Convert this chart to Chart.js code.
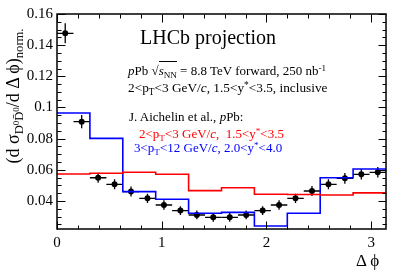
<!DOCTYPE html>
<html>
<head>
<meta charset="utf-8">
<script src="https://cdn.jsdelivr.net/npm/chart.js@4"></script>
<style>
  body { margin: 0; background: #fff; }
  #wrap { position: relative; width: 407px; height: 276px; font-family: "Liberation Serif", "Times New Roman", serif; }
  #c { position: absolute; left: 0; top: 0; }
  .t { position: absolute; white-space: nowrap; line-height: 1; color: #000; }
  .sb { position: relative; top: 0.3em; font-size: 70%; }
  .sp { position: relative; top: -0.45em; font-size: 70%; }
  .it { font-style: italic; }
  .ov { border-top: 1px solid currentColor; padding-top: 1px; }
</style>
</head>
<body>
<div id="wrap">
  <canvas id="c" width="407" height="276"></canvas>

  <div class="t" style="left:140px; top:27px; font-size:20px;">LHCb projection</div>
  <div class="t" style="left:128px; top:64px; font-size:13px;"><span class="it">p</span>Pb &radic;<span class="ov"><span class="it">s</span><span class="sb">NN</span></span> = 8.8 TeV forward, 250 nb<span class="sp">-1</span></div>
  <div class="t" style="left:128px; top:81px; font-size:13.3px;">2&lt;p<span class="sb">T</span>&lt;3 GeV/<span class="it">c</span>, 1.5&lt;y<span class="sp">*</span>&lt;3.5, inclusive</div>
  <div class="t" style="left:129px; top:110px; font-size:13px;">J. Aichelin et al., <span class="it">p</span>Pb:</div>
  <div class="t" style="left:139px; top:127px; font-size:13px; color:#ff0000;">2&lt;p<span class="sb">T</span>&lt;3 GeV/<span class="it">c</span>,&nbsp; 1.5&lt;y<span class="sp">*</span>&lt;3.5</div>
  <div class="t" style="left:134px; top:141px; font-size:13px; color:#0000ff;">3&lt;p<span class="sb">T</span>&lt;12 GeV/<span class="it">c</span>, 2.0&lt;y<span class="sp">*</span>&lt;4.0</div>

  <div class="t" style="left:356px; top:252px; font-size:17px;">&Delta; &#981;</div>
  <div class="t" style="left:-87px; top:87px; width:200px; text-align:center; font-size:18px; transform:rotate(-90deg);">(d &sigma;<span class="sb">D<span class="sp">0</span>D&#772;<span class="sp">0</span></span>/d &Delta; &#981;)<span class="sb">norm.</span></div>
</div>

<script>
/* ===================== DATA ===================== */

const PHI_MAX = Math.PI;

// LHCb projection points, 20 bins in delta phi
const lhcbValues = [
  0.1476, 0.0909, 0.0549, 0.0507, 0.0460, 0.0417, 0.0374, 0.0338, 0.0310, 0.0295,
  0.0295, 0.0310, 0.0338, 0.0374, 0.0417, 0.0464, 0.0507, 0.0545, 0.0571, 0.0584
];
const lhcbErrors = [
  0.0064, 0.0042, 0.0032, 0.0032, 0.0032, 0.0030, 0.0030, 0.0028, 0.0028, 0.0028,
  0.0028, 0.0028, 0.0028, 0.0030, 0.0030, 0.0032, 0.0032, 0.0034, 0.0034, 0.0034
];

// Aichelin et al. model, 10 bins in delta phi
const redModel  = [0.0573, 0.0578, 0.0584, 0.0571, 0.0466, 0.0485, 0.0443, 0.0441, 0.0438, 0.0452];
const blueModel = [0.0965, 0.0802, 0.0460, 0.0411, 0.0321, 0.0327, 0.0239, 0.0321, 0.0549, 0.0605];

const yTickLabels = [0.04, 0.06, 0.08, 0.1, 0.12, 0.14, 0.16];
const xTickLabels = [0, 1, 2, 3];

/* ===================== HELPERS ===================== */

function binCenters(n) {
  const w = PHI_MAX / n;
  return Array.from({ length: n }, (_, i) => (i + 0.5) * w);
}

function histPoints(values) {
  const w = PHI_MAX / values.length;
  const pts = values.map((v, i) => ({ x: i * w, y: v }));
  pts.push({ x: PHI_MAX, y: values[values.length - 1] });
  return pts;
}

const centers = binCenters(lhcbValues.length);
const halfBin = PHI_MAX / lhcbValues.length / 2;
const points = lhcbValues.map((v, i) => ({ x: centers[i], y: v, e: lhcbErrors[i] }));

/* ===================== PLUGINS ===================== */

// error bars under the markers
const errorBars = {
  id: "errorBars",
  beforeDatasetsDraw(chart) {
    const { ctx, scales: { x, y } } = chart;
    ctx.save();
    ctx.strokeStyle = "#000";
    ctx.lineWidth = 1.3;
    points.forEach(p => {
      const px = x.getPixelForValue(p.x);
      ctx.beginPath();
      ctx.moveTo(x.getPixelForValue(p.x - halfBin), y.getPixelForValue(p.y));
      ctx.lineTo(x.getPixelForValue(p.x + halfBin), y.getPixelForValue(p.y));
      ctx.moveTo(px, y.getPixelForValue(p.y - p.e));
      ctx.lineTo(px, y.getPixelForValue(p.y + p.e));
      ctx.stroke();
    });
    ctx.restore();
  }
};

// ROOT style frame with inward ticks on all four sides
const frameTicks = {
  id: "frameTicks",
  afterDraw(chart) {
    const { ctx, chartArea: a, scales: { x, y } } = chart;
    ctx.save();
    ctx.strokeStyle = "#000";
    ctx.lineWidth = 1;

    const tick = (x1, y1, x2, y2) => {
      ctx.moveTo(Math.round(x1) + 0.5, Math.round(y1) + 0.5);
      ctx.lineTo(Math.round(x2) + 0.5, Math.round(y2) + 0.5);
    };

    ctx.beginPath();
    for (let k = 0; k <= 15; k++) {
      const v = k * 0.2;
      if (v > x.max) break;
      const px = x.getPixelForValue(v);
      const len = k % 5 === 0 ? 8 : 4;
      tick(px, a.bottom, px, a.bottom - len);
      tick(px, a.top, px, a.top + len);
    }
    for (let k = 5; k <= 32; k++) {
      const v = k * 0.005;
      if (v < y.min) continue;
      const py = y.getPixelForValue(v);
      const len = k % 4 === 0 ? 8 : 4;
      tick(a.left, py, a.left + len, py);
      tick(a.right, py, a.right - len, py);
    }
    ctx.stroke();

    ctx.lineWidth = 1.5;
    ctx.strokeRect(a.left, a.top, a.right - a.left, a.bottom - a.top);
    ctx.restore();
  }
};

/* ===================== CHART ===================== */

const tickFont = { family: "Liberation Serif", size: 15 };

new Chart(document.getElementById("c"), {
  type: "scatter",
  data: {
    datasets: [
      {
        data: histPoints(redModel),
        showLine: true,
        stepped: "before",
        borderColor: "#ff0000",
        borderWidth: 1.6,
        pointRadius: 0
      },
      {
        data: histPoints(blueModel),
        showLine: true,
        stepped: "before",
        borderColor: "#0000ff",
        borderWidth: 1.6,
        pointRadius: 0
      },
      {
        data: points,
        pointRadius: 3,
        pointBackgroundColor: "#000",
        pointBorderColor: "#000",
        borderWidth: 0
      }
    ]
  },
  options: {
    responsive: false,
    animation: false,
    layout: { padding: { top: 14, right: 21, left: 0, bottom: 0 } },
    plugins: { legend: { display: false }, tooltip: { enabled: false } },
    scales: {
      x: {
        type: "linear",
        min: 0,
        max: PHI_MAX,
        grid: { display: false, drawTicks: false },
        border: { display: false },
        afterFit: s => { s.height = 47; },
        afterBuildTicks: s => { s.ticks = xTickLabels.map(v => ({ value: v })); },
        ticks: { font: tickFont, color: "#000", padding: 5, callback: v => String(v) }
      },
      y: {
        min: 0.022,
        max: 0.16,
        grid: { display: false, drawTicks: false },
        border: { display: false },
        afterFit: s => { s.width = 57; },
        afterBuildTicks: s => { s.ticks = yTickLabels.map(v => ({ value: v })); },
        ticks: { font: tickFont, color: "#000", padding: 4, callback: v => String(+v.toFixed(2)) }
      }
    }
  },
  plugins: [errorBars, frameTicks]
});
</script>
</body>
</html>
